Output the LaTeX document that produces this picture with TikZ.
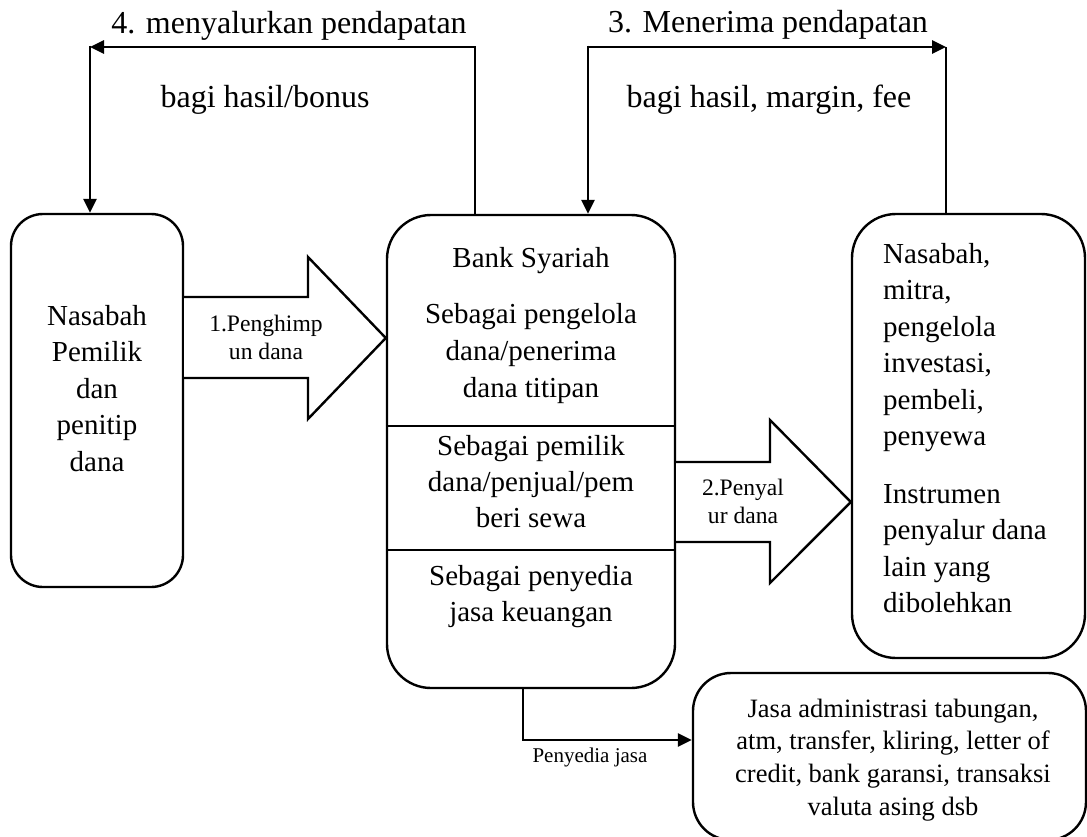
\documentclass[tikz,border=0pt]{standalone}
\usepackage{fontspec}
\setmainfont{Liberation Serif}
\usetikzlibrary{arrows.meta,calc}
\begin{document}
\begin{tikzpicture}[x=1pt,y=-1pt,
  box/.style={draw, line width=2.4pt, rounded corners=#1, inner sep=0pt},
  thinln/.style={line width=1.2pt},
  thickln/.style={line width=2.6pt},
  arr/.style={line width=2.6pt, -{Triangle[length=14pt,width=13pt]}},
  blockarrow/.style={draw, line width=2.4pt, line join=miter, fill=white},
  bodytxt/.style={font=\fontsize{29}{36.5}\selectfont, align=center, inner sep=0pt, anchor=north},
  bodyleft/.style={font=\fontsize{29}{36.5}\selectfont, align=left, inner sep=0pt, anchor=north west},
  arrtxt/.style={font=\fontsize{23.6}{28}\selectfont, align=center, inner sep=0pt, anchor=north},
  svctxt/.style={font=\fontsize{26.5}{32.6}\selectfont, align=center, inner sep=0pt, anchor=north},
  toptxt/.style={font=\fontsize{32}{38}\selectfont, inner sep=0pt, anchor=base},
  smalltxt/.style={font=\fontsize{21}{25}\selectfont, inner sep=0pt, anchor=base}
]
\useasboundingbox (0,0) rectangle (1087,836);

% boxes
\node[box=32pt, minimum width=172pt, minimum height=373pt] (left) at (97,400.5) {};
\node[box=44pt, minimum width=288pt, minimum height=473pt] (bank) at (531,451.5) {};
\node[box=44pt, minimum width=233pt, minimum height=444pt] (right) at (968.5,436) {};
\node[box=38pt, minimum width=393pt, minimum height=167pt] (svc) at (889.5,756.5) {};

% dividers in bank box
\coordinate (d1) at (0,426);
\coordinate (d2) at (0,550);
\draw[thinln] (bank.west |- d1) -- (bank.east |- d1);
\draw[thinln] (bank.west |- d2) -- (bank.east |- d2);

% block arrows
\draw[blockarrow] (left.east |- 0,297) -- (308,297) -- (308,257) -- (bank.west |- 0,338)
  -- (308,419) -- (308,378) -- (left.east |- 0,378);
\draw[blockarrow] (bank.east |- 0,462) -- (770,462) -- (770,420) -- (right.west |- 0,502)
  -- (770,583) -- (770,542) -- (bank.east |- 0,542);

% top connectors
\coordinate (t4r) at (475,47);
\coordinate (t4l) at (90,47);
\coordinate (t3l) at (588,47);
\coordinate (t3r) at (946,47);
\draw[thinln] (bank.north -| t4r) -- (t4r);
\draw[arr] ([xshift=0.6pt]t4r) -- (t4l);
\draw[arr, shorten <=-1.3pt] (t4l) -- (left.north -| t4l);
\draw[arr] (t3l) -- (t3r);
\draw[arr, shorten <=-1.3pt] (t3l) -- (bank.north -| t3l);
\draw[thinln] (t3r) -- (right.north -| t3r);

% bottom connector
\coordinate (pj) at (523,740);
\draw[thinln] (bank.south -| pj) -- (pj);
\draw[arr, shorten <=-0.6pt] (pj) -- (svc.west |- pj);

% texts
\node[toptxt] (l4) at (289,33) {4. menyalurkan pendapatan};
\node[toptxt] (l4b) at (265,107) {bagi hasil/bonus};
\node[toptxt] (l3) at (768,32) {3. Menerima pendapatan};
\node[toptxt] (l3b) at (769,107) {bagi hasil, margin, fee};

\node[bodytxt] (lefttxt) at (97,299.45) {\strut Nasabah\\Pemilik\\dan\\penitip\\dana};

\node[bodytxt] (bankA) at (531,241.45) {\strut Bank Syariah};
\node[bodytxt, font=\fontsize{29}{37}\selectfont] (bankB) at (531,297.1) {\strut Sebagai pengelola\\dana/penerima\\dana titipan};
\node[bodytxt, font=\fontsize{29}{36}\selectfont] (bankC) at (531,429.8) {\strut Sebagai pemilik\\dana/penjual/pem\\beri sewa};
\node[bodytxt] (bankD) at (531,559.45) {\strut Sebagai penyedia\\jasa keuangan};

\node[bodyleft] (rightA) at (883,237.45) {\strut Nasabah,\\mitra,\\pengelola\\investasi,\\pembeli,\\penyewa};
\node[bodyleft] (rightB) at (883,477.45) {\strut Instrumen\\penyalur dana\\lain yang\\dibolehkan};

\node[arrtxt] (a1) at (266,311.4) {\strut 1.Penghimp\\un dana};
\node[arrtxt] (a2) at (743,475.4) {\strut 2.Penyal\\ur dana};

\node[svctxt] (svctext) at (893,694.2) {\strut Jasa administrasi tabungan,\\atm, transfer, kliring, letter of\\credit, bank garansi, transaksi\\valuta asing dsb};

\node[smalltxt] (pjl) at (590,762) {Penyedia jasa};
\end{tikzpicture}
\end{document}
